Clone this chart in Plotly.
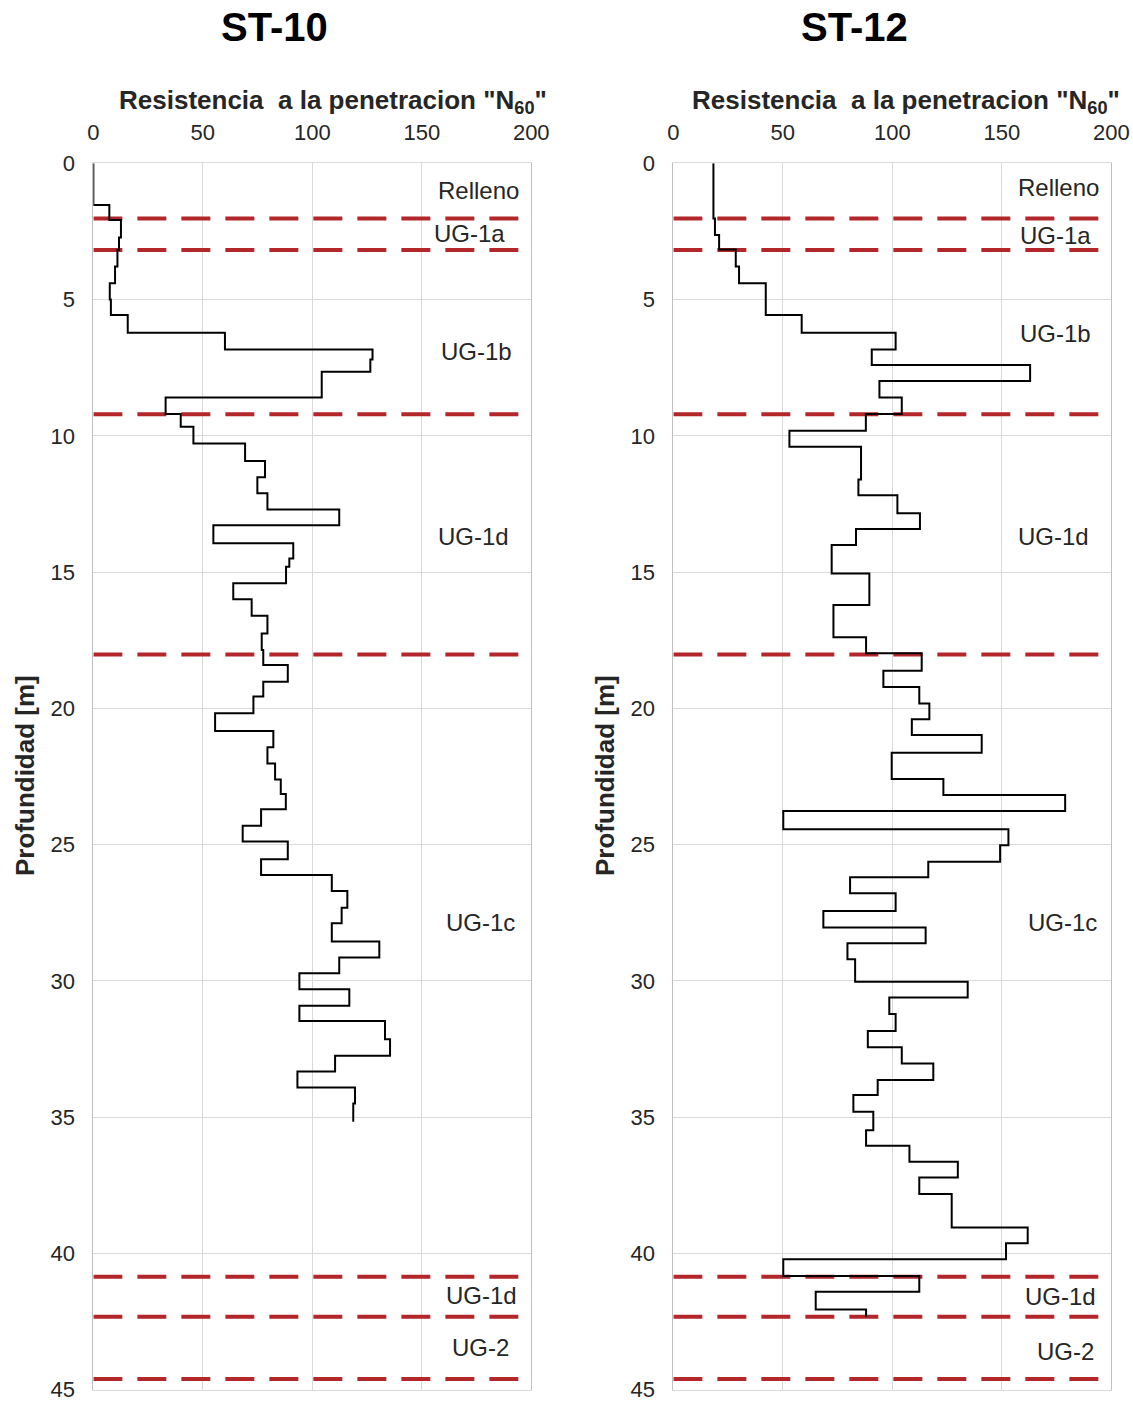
import plotly.graph_objects as go

# ---------------- data ----------------
# ST-10 : step profile (top depth of each interval, N60 value), end depth
st10_top = [0, 1.53, 2.08, 2.72, 3.18, 3.79, 4.40, 5.0, 5.57, 6.22,
            6.83, 7.2, 7.65, 8.59, 9.2, 9.67, 10.28, 10.92, 11.52, 12.11,
            12.70, 13.28, 13.94, 14.50, 14.8, 15.41, 16.0, 16.6, 17.25, 17.86,
            18.41, 19.02, 19.57, 20.18, 20.83, 21.43, 22.02, 22.61, 23.14, 23.70,
            24.31, 24.89, 25.54, 26.12, 26.70, 27.32, 27.89, 28.56, 29.14, 29.72,
            30.31, 30.91, 31.47, 32.14, 32.75, 33.33, 33.91, 34.50]
st10_n60 = [0, 7.3, 12.6, 11.7, 11.0, 9.9, 7.5, 8.0, 15.7, 60.1,
            127.5, 126.5, 104.3, 33.0, 39.9, 45.7, 69.3, 78.4, 74.9, 79.5,
            112.3, 54.8, 91.3, 89.5, 88.0, 63.9, 72.3, 79.5, 76.9, 77.6,
            88.8, 77.6, 73.1, 55.6, 82.2, 79.5, 83.0, 85.6, 87.9, 76.6,
            68.2, 88.8, 76.6, 108.9, 116.0, 113.4, 108.9, 130.6, 112.3, 94.1,
            116.9, 94.1, 133.2, 135.5, 110.4, 93.2, 119.5, 118.7]
st10_end = 35.17

# ST-12
st12_top = [0, 2.02, 2.63, 3.16, 3.79, 4.40, 5.57, 6.22, 6.83, 7.40,
            7.99, 8.59, 9.2, 9.81, 10.40, 11.60, 12.18, 12.84, 13.42, 14.01,
            15.05, 16.21, 17.39, 17.98, 18.62, 19.22, 19.82, 20.40, 20.98, 21.63,
            22.59, 23.18, 23.77, 24.44, 25.02, 25.63, 26.20, 26.79, 27.44, 28.04,
            28.62, 29.21, 30.03, 30.61, 31.22, 31.84, 32.44, 33.03, 33.64, 34.19,
            34.80, 35.48, 36.05, 36.64, 37.22, 37.82, 39.05, 39.63, 40.22, 40.83,
            41.41, 42.06]
st12_n60 = [18.3, 19.0, 20.9, 28.5, 30.0, 42.2, 58.6, 101.5, 90.6, 162.9,
            94.1, 104.3, 87.9, 53.0, 85.7, 84.5, 102.3, 112.6, 83.4, 72.3,
            89.5, 73.1, 88.0, 113.4, 95.9, 112.3, 116.9, 108.9, 140.8, 99.7,
            123.3, 178.9, 50.2, 153.0, 149.2, 116.4, 80.7, 101.5, 68.5, 115.2,
            79.5, 83.0, 134.4, 98.6, 101.5, 88.8, 104.3, 118.7, 93.3, 82.2,
            91.3, 88.0, 107.8, 129.9, 112.3, 127.1, 161.8, 151.9, 50.2, 112.3,
            65.0, 88.0]
st12_end = 42.33

# layer boundaries (m)
boundaries = [2.02, 3.18, 9.21, 18.02, 40.86, 42.33, 44.61]

# layer labels
layer_names = ["Relleno", "UG-1a", "UG-1b", "UG-1d", "UG-1c", "UG-1d", "UG-2"]
layer_y_st10 = [1.0, 2.58, 6.9, 13.7, 27.85, 41.56, 43.44]
layer_x_st10 = [176, 172, 174.8, 173.4, 177, 177.5, 176.6]
layer_y_st12 = [0.87, 2.63, 6.23, 13.7, 27.85, 41.6, 43.6]
layer_x_st12 = [175.7, 174.3, 174.3, 173.4, 177.9, 177, 178.9]

titles = ["ST-10", "ST-12"]
xtitle = 'Resistencia  a la penetracion "N<sub>60</sub>"'
ytitle = "Profundidad [m]"

FONT = "Liberation Sans, Arial, sans-serif"

fig = go.Figure()

panels = [
    (st10_top, st10_n60, st10_end, layer_x_st10, layer_y_st10, "x", "y"),
    (st12_top, st12_n60, st12_end, layer_x_st12, layer_y_st12, "x2", "y2"),
]

for tops, vals, end, lx, ly, xa, ya in panels:
    # dashed boundaries
    for b in boundaries:
        fig.add_trace(go.Scatter(x=[0, 200], y=[b, b], mode="lines",
                                 line=dict(color="#B3262A", width=4, dash="29px,15px"),
                                 xaxis=xa, yaxis=ya, showlegend=False, hoverinfo="skip"))
    fig.add_trace(go.Scatter(x=vals + [vals[-1]], y=tops + [end], mode="lines",
                             line=dict(color="black", width=2, shape="vh"),
                             xaxis=xa, yaxis=ya, showlegend=False))
    for name, xx, yy in zip(layer_names, lx, ly):
        fig.add_annotation(x=xx, y=yy, xref=xa, yref=ya, text=name, showarrow=False,
                           font=dict(family=FONT, size=24, color="#262626"),
                           xanchor="center", yanchor="middle")

axis_common = dict(range=[0, 200], dtick=50, side="top", showgrid=True,
                   gridcolor="#d9d9d9", gridwidth=1, zeroline=False,
                   showline=True, linecolor="#d9d9d9", mirror=True,
                   tickfont=dict(family=FONT, size=22, color="#262626"),
                   ticks="", ticklabelstandoff=14, ticklabeloverflow="allow",
                   automargin=False, fixedrange=True)
yaxis_common = dict(range=[45, 0], dtick=5, showgrid=True, gridcolor="#d9d9d9",
                    gridwidth=1, zeroline=False, showline=True, linecolor="#bfbfbf",
                    mirror=True, tickfont=dict(family=FONT, size=22, color="#262626"),
                    ticks="", ticklabelstandoff=13, ticklabeloverflow="allow",
                    automargin=False, fixedrange=True)

ydom = [0.00884, 0.8835]
fig.update_layout(
    width=1133, height=1402,
    margin=dict(l=0, r=0, t=0, b=0, pad=0, autoexpand=False),
    paper_bgcolor="white", plot_bgcolor="white",
    xaxis=dict(domain=[0.0824, 0.4689], anchor="y", **axis_common),
    yaxis=dict(domain=ydom, anchor="x", **yaxis_common),
    xaxis2=dict(domain=[0.5943, 0.9809], anchor="y2", **axis_common),
    yaxis2=dict(domain=ydom, anchor="x2", **yaxis_common),
)

for xc, t in zip([0.2427, 0.7546], titles):
    fig.add_annotation(x=xc, y=1 - 27 / 1402, xref="paper", yref="paper",
                       text="<b>" + t + "</b>",
                       showarrow=False, font=dict(family=FONT, size=40, color="black"),
                       xanchor="center", yanchor="middle")
for xc in [0.294, 0.7996]:
    fig.add_annotation(x=xc, y=1 - 101 / 1402, xref="paper", yref="paper",
                       text="<b>" + xtitle + "</b>", showarrow=False,
                       font=dict(family=FONT, size=26, color="#262626"),
                       xanchor="center", yanchor="middle")
for xc in [25 / 1133, 605 / 1133]:
    fig.add_annotation(x=xc, y=1 - 776 / 1402, xref="paper", yref="paper",
                       text="<b>" + ytitle + "</b>", showarrow=False, textangle=-90,
                       font=dict(family=FONT, size=26, color="#262626"),
                       xanchor="center", yanchor="middle")

fig.write_html("out.html",
               config={"displayModeBar": False},
               post_script="document.body.style.margin='0px';document.body.style.overflow='hidden';")
